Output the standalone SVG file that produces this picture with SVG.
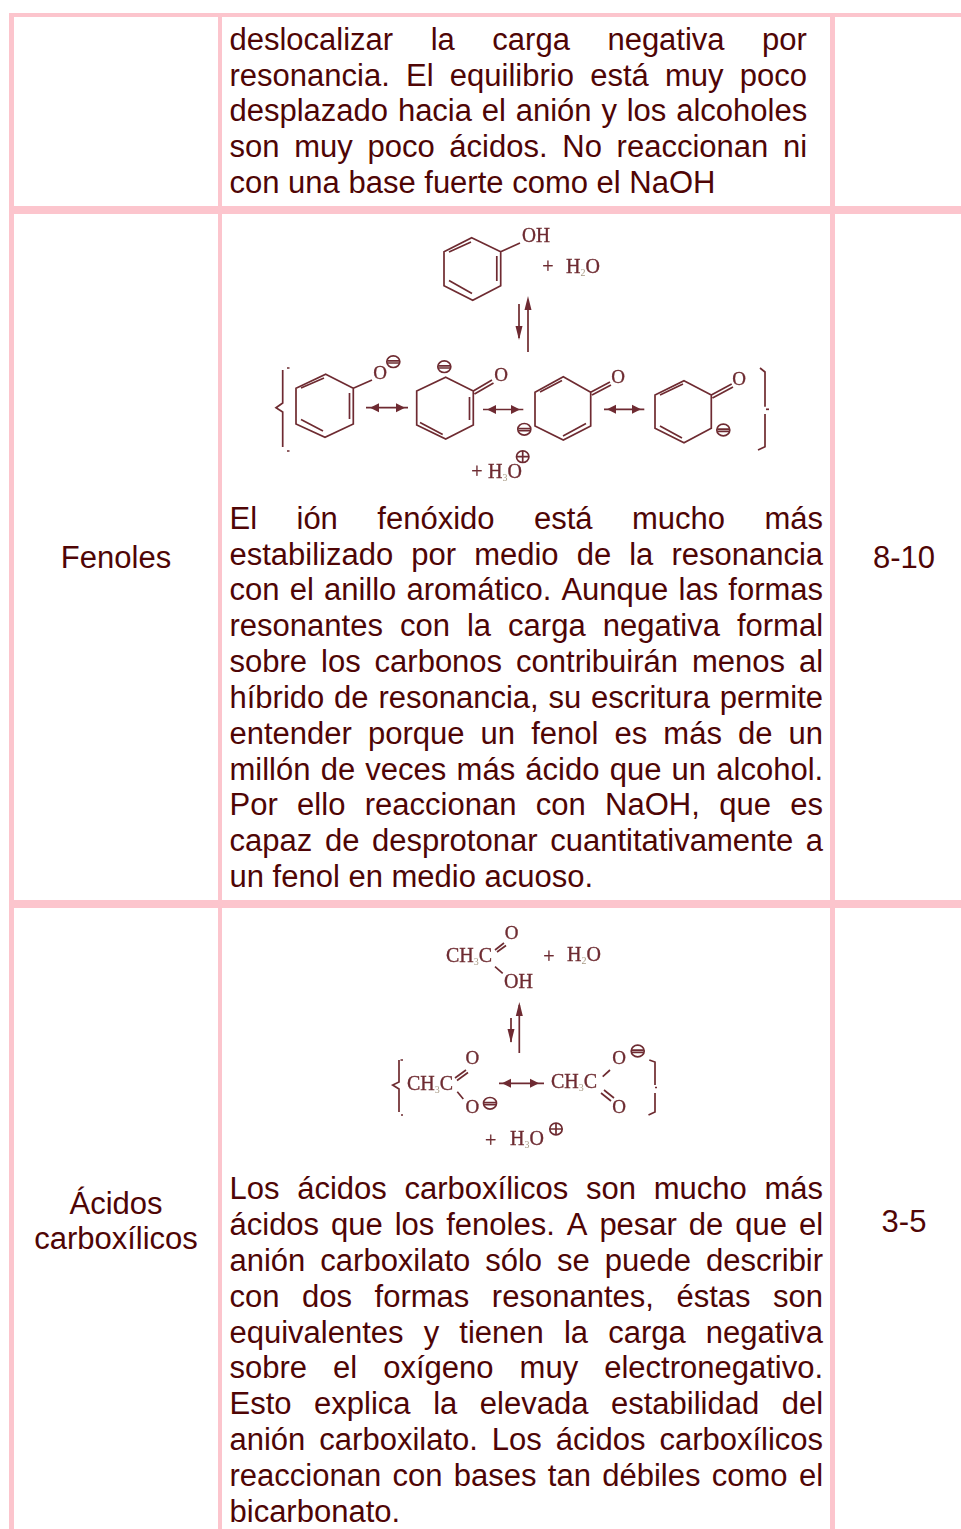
<svg xmlns="http://www.w3.org/2000/svg" width="961" height="1529" viewBox="0 0 961 1529">
<style>
.b{fill:#fcc5cd}
.t{font-family:"Liberation Sans",Arial,sans-serif;font-size:31px;fill:#4f0505;white-space:pre;font-kerning:none}
.m{text-anchor:middle}
.c{fill:none;stroke:#6e2c31;stroke-width:1.7}
.h{fill:#6e2c31;stroke:none}
.l{font-family:"Liberation Serif","Times New Roman",serif;font-size:20px;fill:#6e2c31;stroke:#6e2c31;stroke-width:.35}
.o{text-anchor:middle;font-size:19px}
.s{font-size:10px;fill:#a89a85;stroke:none}
.p{font-size:20px;text-anchor:middle}
</style>
<defs>
<filter id="soft" x="-5%" y="-5%" width="110%" height="110%"><feGaussianBlur stdDeviation="0.3"/></filter>
<g id="minus"><ellipse class="c" rx="6.500" ry="5.800"/><path class="c" d="M-6-0.800H6M-6 1.300H6"/></g>
<g id="plus"><ellipse class="c" rx="6.200" ry="5.800"/><path class="c" d="M-6 0H6M0-5.800V5.800"/></g>
<g id="hl"><polygon class="h" points="-5,0 4,-4.500 4,4.500"/></g>
<g id="hr"><polygon class="h" points="5,0 -4,-4.500 -4,4.500"/></g>
</defs>

<g id="table-grid">
<rect class="b" x="9" y="13" width="952" height="4"/>
<rect class="b" x="9" y="13" width="5" height="1516"/>
<rect class="b" x="218" y="13" width="4" height="1516"/>
<rect class="b" x="830" y="13" width="5" height="1516"/>
<rect class="b" x="9" y="206" width="952" height="8"/>
<rect class="b" x="9" y="900" width="952" height="8"/>
</g>

<g id="row-alcoholes">
<text class="t" x="229.5" y="50" word-spacing="28.9">deslocalizar la carga negativa por</text>
<text class="t" x="229.5" y="86" word-spacing="7.64">resonancia. El equilibrio está muy poco</text>
<text class="t" x="229.5" y="121" word-spacing="1.2">desplazado hacia el anión y los alcoholes</text>
<text class="t" x="229.5" y="157" word-spacing="6.08">son muy poco ácidos. No reaccionan ni</text>
<text class="t" x="229.5" y="193">con una base fuerte como el NaOH</text>
</g>

<g id="row-fenoles">
<text class="t m" x="116" y="568">Fenoles</text>
<text class="t m" x="904" y="568">8-10</text>
<text class="t" x="229.5" y="529" word-spacing="30.82">El ión fenóxido está mucho más</text>
<text class="t" x="229.5" y="565" word-spacing="9.46">estabilizado por medio de la resonancia</text>
<text class="t" x="229.5" y="600" word-spacing="1.57">con el anillo aromático. Aunque las formas</text>
<text class="t" x="229.5" y="636" word-spacing="8.42">resonantes con la carga negativa formal</text>
<text class="t" x="229.5" y="672" word-spacing="5.34">sobre los carbonos contribuirán menos al</text>
<text class="t" x="229.5" y="708" word-spacing="1.2">híbrido de resonancia, su escritura permite</text>
<text class="t" x="229.5" y="744" word-spacing="7.48">entender porque un fenol es más de un</text>
<text class="t" x="229.5" y="780" word-spacing="1.6">millón de veces más ácido que un alcohol.</text>
<text class="t" x="229.5" y="815" word-spacing="10.76">Por ello reaccionan con NaOH, que es</text>
<text class="t" x="229.5" y="851" word-spacing="4.06">capaz de desprotonar cuantitativamente a</text>
<text class="t" x="229.5" y="887">un fenol en medio acuoso.</text>
</g>

<g id="row-acidos">
<text class="t m" x="116" y="1214">Ácidos</text>
<text class="t m" x="116" y="1249">carboxílicos</text>
<text class="t m" x="904" y="1232">3-5</text>
<text class="t" x="229.5" y="1199" word-spacing="9.12">Los ácidos carboxílicos son mucho más</text>
<text class="t" x="229.5" y="1235" word-spacing="3.32">ácidos que los fenoles. A pesar de que el</text>
<text class="t" x="229.5" y="1271" word-spacing="6.36">anión carboxilato sólo se puede describir</text>
<text class="t" x="229.5" y="1307" word-spacing="13.94">con dos formas resonantes, éstas son</text>
<text class="t" x="229.5" y="1343" word-spacing="11.52">equivalentes y tienen la carga negativa</text>
<text class="t" x="229.5" y="1378" word-spacing="17.43">sobre el oxígeno muy electronegativo.</text>
<text class="t" x="229.5" y="1414" word-spacing="13.94">Esto explica la elevada estabilidad del</text>
<text class="t" x="229.5" y="1450" word-spacing="5.38">anión carboxilato. Los ácidos carboxílicos</text>
<text class="t" x="229.5" y="1486" word-spacing="2.71">reaccionan con bases tan débiles como el</text>
<text class="t" x="229.5" y="1522">bicarbonato.</text>
</g>

<g id="fenol-scheme" filter="url(#soft)">
<path class="c" d="M471.700 237.700L500.700 251.700V285.700L472.700 300.300L444 285.700V251.700ZM449 252L471 242M496.800 256V281M449 280.500L472 293.500M500.700 251.700L520 243"/>
<text class="l" x="522" y="242" font-size="17" textLength="28" lengthAdjust="spacingAndGlyphs">OH</text>
<text class="l p" x="548" y="273">+</text>
<text class="l" x="566" y="273">H<tspan class="s" dy="3">2</tspan><tspan dy="-3">O</tspan></text>
<path class="c" d="M528 300V352M519 304V338"/>
<polygon class="h" points="528,296 524.500,310 531.500,310"/>
<polygon class="h" points="519,340 515.500,326 522.500,326"/>

<path class="c" d="M282.700 370V403L276 407.700L282.700 412V447"/>
<path class="c" d="M287 368h2.500M287 451h2.500"/>
<path class="c" d="M325.700 374.300L353.300 388.300V424L325 437.300L296 424V388.300ZM301 388L324 378M349.500 393V419M301 419.500L323 431M353.300 388.300L372 380"/>
<text class="l o" x="380" y="379">O</text>
<use href="#minus" x="393.300" y="361.700"/>
<path class="c" d="M366 407.700H408"/><use href="#hl" x="375" y="407.700"/><use href="#hr" x="400" y="407.700"/>

<path class="c" d="M445.700 377.300L473.300 391V425L445.700 439L416.700 425V391ZM469.500 397V420M420 422.500L442.700 434.500M473.300 391L492 380M474.500 394L493.500 383"/>
<text class="l o" x="501" y="381">O</text>
<use href="#minus" x="444.300" y="366.700"/>
<path class="c" d="M483 409.500H523.300"/><use href="#hl" x="492" y="409.500"/><use href="#hr" x="515" y="409.500"/>

<path class="c" d="M563.300 376.700L590.700 392.300V426L563.300 440L535 426V392.300ZM540 392L562 380.500M586 423.500L563 436M590.700 392.300L610 382M592 395L611 385"/>
<text class="l o" x="618" y="383">O</text>
<use href="#minus" x="524.300" y="429.300"/>
<path class="c" d="M604 409.300H644.300"/><use href="#hl" x="612" y="409.300"/><use href="#hr" x="636" y="409.300"/>

<path class="c" d="M684 380.700L711.300 395V428.300L684 442.700L655 428.300V395ZM660 395L683 384M660 426L682 438M711.300 395L731.700 384M712.500 398L733 387"/>
<text class="l o" x="739" y="385">O</text>
<use href="#minus" x="723.300" y="430"/>
<path class="c" d="M760 368L765 372V406.700M765 414V446.700L758 450"/>
<path class="c" d="M766 409.300h3"/>

<text class="l p" x="477" y="478">+</text>
<text class="l" x="488" y="478">H<tspan class="s" dy="3">3</tspan><tspan dy="-3">O</tspan></text>
<use href="#plus" x="522.700" y="456.700"/>
</g>

<g id="acido-scheme" filter="url(#soft)">
<text class="l" x="446" y="962">CH<tspan class="s" dy="3">3</tspan><tspan dy="-3">C</tspan></text>
<path class="c" d="M495 950L504 943M497 952L506 945.500M495 966.700L502.700 973.300"/>
<text class="l o" x="511.700" y="939">O</text>
<text class="l" x="504" y="988">OH</text>
<text class="l p" x="549" y="963">+</text>
<text class="l" x="567" y="961">H<tspan class="s" dy="3">2</tspan><tspan dy="-3">O</tspan></text>
<path class="c" d="M519.300 1005V1053M511 1018V1042"/>
<polygon class="h" points="519.300,1002 515.800,1016 522.800,1016"/>
<polygon class="h" points="511,1043 507.500,1029 514.500,1029"/>

<path class="c" d="M399 1060V1082L392.700 1085L399 1089V1112"/>
<path class="c" d="M400.500 1060h2.500M401 1115h2"/>
<text class="l" x="407" y="1090">CH<tspan class="s" dy="3">3</tspan><tspan dy="-3">C</tspan></text>
<path class="c" d="M455 1078L466 1070M457 1080.500L468 1072.500M457.300 1091.700L463.300 1099"/>
<text class="l o" x="472.300" y="1064">O</text>
<text class="l o" x="472.300" y="1113">O</text>
<use href="#minus" x="490" y="1103.300"/>
<path class="c" d="M499 1083.300H544"/><use href="#hl" x="507" y="1083.300"/><use href="#hr" x="534" y="1083.300"/>

<text class="l" x="551" y="1088">CH<tspan class="s" dy="3">3</tspan><tspan dy="-3">C</tspan></text>
<path class="c" d="M602.700 1076.700L610 1070M601 1093L611 1101M604 1090L614 1098"/>
<text class="l o" x="619" y="1064">O</text>
<text class="l o" x="619" y="1113">O</text>
<use href="#minus" x="637.700" y="1051"/>
<path class="c" d="M649.300 1060L655 1062V1085M655 1093V1112L648.500 1115"/>
<path class="c" d="M655 1087.500h2"/>

<text class="l p" x="490.700" y="1147">+</text>
<text class="l" x="510" y="1145">H<tspan class="s" dy="3">3</tspan><tspan dy="-3">O</tspan></text>
<use href="#plus" x="556" y="1129"/>
</g>
</svg>
